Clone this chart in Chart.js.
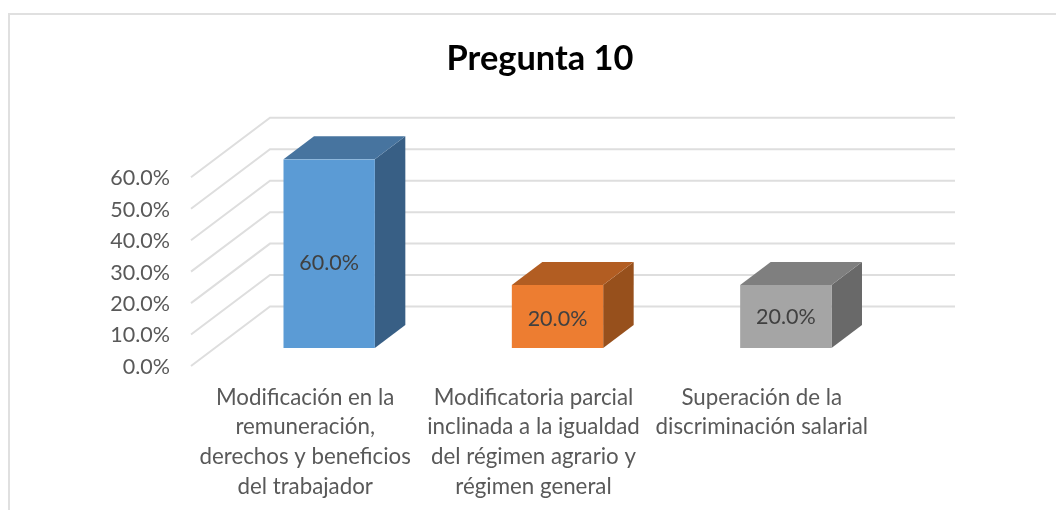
<!DOCTYPE html>
<html>
<head>
<meta charset="utf-8">
<title>Pregunta 10</title>
<script src="https://cdn.jsdelivr.net/npm/chart.js@4/dist/chart.umd.min.js"></script>
<style>
    html, body { margin: 0; padding: 0; background: #fff; overflow: hidden; }
    #frame { position: absolute; left: 8px; top: 13px; right: 0; bottom: 0; border-top: 2px solid #e0e0e0; border-left: 2px solid #e0e0e0; }
    #wrap { position: absolute; left: 0; top: 0; width: 1056px; height: 510px; }
</style>
</head>
<body>
<div id="frame"></div>
<div id="wrap"><canvas id="chart"></canvas></div>
<script>
const titulo = 'Pregunta 10';
const categorias = [
    ['Modificación en la', 'remuneración,', 'derechos y beneficios', 'del trabajador'],
    ['Modificatoria parcial', 'inclinada a la igualdad', 'del régimen agrario y', 'régimen general'],
    ['Superación de la', 'discriminación salarial']
];
const valores = [60, 20, 20];
const colores = ['#5b9bd5', '#ed7d31', '#a5a5a5'];
const coloresTapa = ['#47749f', '#b25d22', '#7f7f7f'];
const coloresLado = ['#385f85', '#97501c', '#696969'];

// profundidad de la caja 3D (pared del fondo y barras)
const FONDO_DX = 79, FONDO_DY = -59.5;
const BARRA_OFF_X = 24, BARRA_OFF_Y = -18;
const BARRA_DX = 30.5, BARRA_DY = -23;
// las etiquetas del original no quedan justo al centro de cada barra
const ETIQUETA_DY = [9, 2.5, 0.5];

const formato = v => v.toFixed(1) + '%';

const caja3d = {
    id: 'caja3d',
    beforeDatasetsDraw(chart) {
        const { ctx, chartArea, scales: { y } } = chart;
        // rejilla: diagonal de la pared lateral + linea en la pared del fondo
        ctx.save();
        ctx.strokeStyle = '#dedede';
        ctx.lineWidth = 2;
        y.ticks.forEach(t => {
            const py = y.getPixelForValue(t.value);
            ctx.beginPath();
            ctx.moveTo(chartArea.left, py);
            ctx.lineTo(chartArea.left + FONDO_DX, py + FONDO_DY);
            ctx.lineTo(chartArea.right + FONDO_DX, py + FONDO_DY);
            ctx.stroke();
        });
        // caras superior y lateral de cada barra
        chart.getDatasetMeta(0).data.forEach((bar, i) => {
            const r = bar.x + bar.width / 2 + BARRA_OFF_X;
            const l = bar.x - bar.width / 2 + BARRA_OFF_X;
            const t = bar.y + BARRA_OFF_Y;
            const b = bar.base + BARRA_OFF_Y;
            ctx.fillStyle = coloresLado[i];
            ctx.beginPath();
            ctx.moveTo(r, t);
            ctx.lineTo(r + BARRA_DX, t + BARRA_DY);
            ctx.lineTo(r + BARRA_DX, b + BARRA_DY);
            ctx.lineTo(r, b);
            ctx.closePath();
            ctx.fill();
            ctx.fillStyle = coloresTapa[i];
            ctx.beginPath();
            ctx.moveTo(l, t);
            ctx.lineTo(l + BARRA_DX, t + BARRA_DY);
            ctx.lineTo(r + BARRA_DX, t + BARRA_DY);
            ctx.lineTo(r, t);
            ctx.closePath();
            ctx.fill();
        });
        ctx.restore();
        // la cara frontal la dibuja Chart.js, desplazada hacia el fondo
        ctx.save();
        ctx.translate(BARRA_OFF_X, BARRA_OFF_Y);
    },
    afterDatasetsDraw(chart) {
        const { ctx } = chart;
        ctx.restore();
        ctx.save();
        ctx.fillStyle = '#404040';
        ctx.font = '21.5px Lato';
        ctx.textAlign = 'center';
        ctx.textBaseline = 'middle';
        chart.getDatasetMeta(0).data.forEach((bar, i) => {
            ctx.fillText(formato(valores[i]), bar.x + BARRA_OFF_X, (bar.y + bar.base) / 2 + BARRA_OFF_Y + ETIQUETA_DY[i]);
        });
        ctx.restore();
    }
};

new Chart(document.getElementById('chart'), {
    type: 'bar',
    data: {
        labels: categorias,
        datasets: [{
            data: valores,
            backgroundColor: colores,
            barPercentage: 0.4,
            categoryPercentage: 1
        }]
    },
    options: {
        responsive: true,
        maintainAspectRatio: false,
        animation: false,
        layout: { padding: { left: 24, right: 0, top: 0, bottom: 0 } },
        plugins: {
            legend: { display: false },
            tooltip: { enabled: false },
            title: {
                display: true,
                text: titulo,
                color: '#000',
                font: { family: 'Lato', size: 34.4, weight: 'bold', lineHeight: 1.2 },
                padding: { top: 38.5, bottom: 97.5 }
            }
        },
        scales: {
            x: {
                grid: { display: false },
                border: { display: false },
                afterFit: s => { s.height = 144; },
                ticks: {
                    autoSkip: false,
                    maxRotation: 0,
                    minRotation: 0,
                    padding: 8.5,
                    color: '#595959',
                    font: { family: 'Lato', size: 22.3, lineHeight: 1.33 }
                }
            },
            y: {
                min: 0,
                max: 60,
                afterFit: s => { s.width = 167; },
                grid: { display: false },
                border: { display: false },
                ticks: {
                    stepSize: 10,
                    padding: 13,
                    labelOffset: 1,
                    color: '#595959',
                    font: { family: 'Lato', size: 21.5 },
                    callback: v => formato(v)
                }
            },
            // solo reserva el hueco a la derecha de la cara frontal
            derecha: {
                type: 'linear',
                position: 'right',
                afterFit: s => { s.width = 180; },
                grid: { display: false },
                border: { display: false },
                ticks: { display: false }
            }
        }
    },
    plugins: [caja3d]
});
</script>
</body>
</html>
